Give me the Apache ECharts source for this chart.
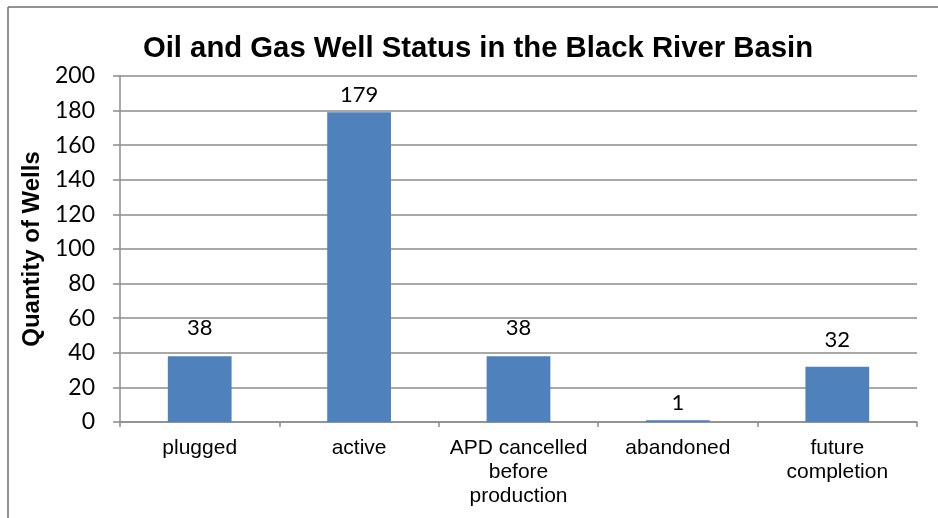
<!DOCTYPE html>
<html>
<head>
<meta charset="utf-8">
<script src="https://cdn.jsdelivr.net/npm/echarts@6/dist/echarts.min.js"></script>
<style>
html,body{margin:0;padding:0;background:#fff;}
#chart{width:938px;height:518px;}
</style>
</head>
<body>
<div id="chart"></div>
<script>
// Well status categories and counts
const categories = ['plugged', 'active', 'APD cancelled\nbefore\nproduction', 'abandoned', 'future\ncompletion'];
const wellCounts = [38, 179, 38, 1, 32];
const yTicks = { min: 0, max: 200, interval: 20 };
// Gap between each bar and its value label (some labels sit higher to clear a gridline)
const labelGaps = [17, 6, 17, 6, 16];

const chart = echarts.init(document.getElementById('chart'), null, { renderer: 'canvas' });
const gridColor = '#8c8c8c';
const numFont = 'Lato, "Open Sans", sans-serif';
const textFont = '"Liberation Sans", Arial, sans-serif';

chart.setOption({
  animation: false,
  backgroundColor: '#fff',
  title: {
    text: 'Oil and Gas Well Status in the Black River Basin',
    left: 473, textAlign: 'center', top: 29,
    textStyle: { fontFamily: textFont, fontSize: 29.3, fontWeight: 'bold', color: '#000' }
  },
  grid: { left: 120, right: 21, top: 76, bottom: 96 },
  xAxis: {
    type: 'category',
    data: categories,
    boundaryGap: true,
    axisLine: { lineStyle: { color: gridColor, width: 1.5 } },
    axisTick: { show: true, length: 5, lineStyle: { color: gridColor, width: 1.5 } },
    axisLabel: { fontFamily: textFont, fontSize: 21, color: '#000', lineHeight: 24, margin: 14, interval: 0 }
  },
  yAxis: {
    type: 'value',
    min: yTicks.min, max: yTicks.max, interval: yTicks.interval,
    name: 'Quantity of Wells',
    nameLocation: 'middle',
    nameGap: 74,
    nameTextStyle: { fontFamily: textFont, fontSize: 24, fontWeight: 'bold', color: '#000' },
    axisLine: { show: true, lineStyle: { color: gridColor, width: 1.5 } },
    axisTick: { show: true, length: 7, lineStyle: { color: gridColor, width: 1.5 } },
    splitLine: { lineStyle: { color: gridColor, width: 1.5 } },
    axisLabel: { fontFamily: numFont, fontSize: 23, color: '#000', margin: 25 }
  },
  series: [{
    type: 'bar',
    data: wellCounts.map((v, i) => ({ value: v, label: { distance: labelGaps[i] } })),
    barWidth: '40%',
    itemStyle: { color: '#4f81bd' },
    label: {
      show: true, position: 'top', distance: 6,
      fontFamily: numFont, fontSize: 22, color: '#000'
    }
  }],
  graphic: [
    { type: 'line', shape: { x1: 8, y1: 7, x2: 938, y2: 7 }, style: { stroke: '#6e6e6e', lineWidth: 1.5 } },
    { type: 'line', shape: { x1: 8, y1: 7, x2: 8, y2: 518 }, style: { stroke: '#6e6e6e', lineWidth: 1.5 } }
  ]
});
</script>
</body>
</html>
